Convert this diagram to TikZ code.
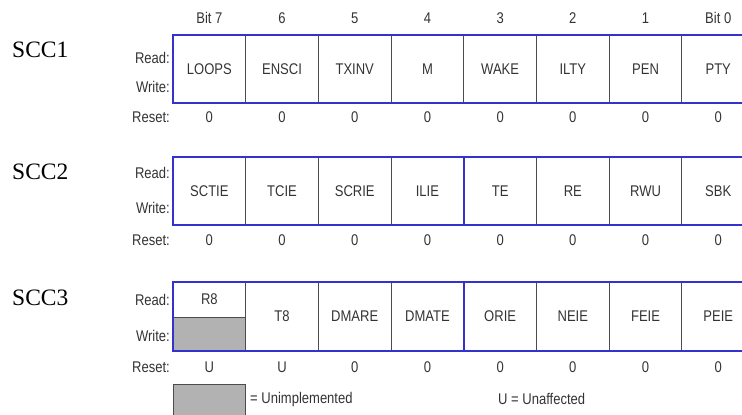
\documentclass[tikz,border=0pt]{standalone}
\usepackage{fontspec}
\setmainfont{Liberation Serif}
\newfontfamily\regfont[FakeStretch=0.84]{Liberation Sans}
\definecolor{regblue}{RGB}{51,51,204}
\definecolor{regtext}{RGB}{51,51,51}
\definecolor{unimpl}{RGB}{178,178,178}
\tikzset{
  regframe/.style={draw=regblue, line width=2pt},
  bitsep/.style={draw=black!70, line width=0.9pt},
  regtxt/.style={font=\regfont\fontsize{15.5}{18}\selectfont, text=regtext, inner sep=0pt},
  rowlbl/.style={regtxt, anchor=east},
  regname/.style={font=\fontsize{23.5}{26}\selectfont, anchor=west, inner sep=0pt},
}
\begin{document}
\begin{tikzpicture}[x=1pt,y=-1pt]
\clip (0,0) rectangle (742,415);
\def\cw{72.7}
% bit numbers over the first register
\foreach \b [count=\k] in {Bit 7,6,5,4,3,2,1,Bit 0}
  \node[regtxt] (bit\k) at ({173+\cw*(\k-0.5)},18) {\b};

% SCC1
\node[regname] (scc1) at (12,50) {SCC1};
\foreach \k in {1,...,7} \draw[bitsep] ({173+\cw*\k},35) -- ({173+\cw*\k},103);
\draw[regframe] (173,35) rectangle (760,103);
\foreach \nm [count=\k] in {LOOPS,ENSCI,TXINV,M,WAKE,ILTY,PEN,PTY}
  \node[regtxt] (one\k) at ({173+\cw*(\k-0.5)},69) {\nm};
\node[rowlbl] (rd1) at (170,58) {Read:};
\node[rowlbl] (wr1) at (170,87) {Write:};
\node[rowlbl] (rs1) at (170,117) {Reset:};
\foreach \k in {1,...,8} \node[regtxt] (rst1-\k) at ({173+\cw*(\k-0.5)},117) {0};

% SCC2: the blue line between ILIE and TE
\node[regname] (scc2) at (12,172) {SCC2};
\foreach \k in {1,...,7} \draw[bitsep] ({173+\cw*\k},157) -- ({173+\cw*\k},225);
\draw[regframe] ({173+\cw*4},157) -- ({173+\cw*4},225);
\draw[regframe] (173,157) rectangle (760,225);
\foreach \nm [count=\k] in {SCTIE,TCIE,SCRIE,ILIE,TE,RE,RWU,SBK}
  \node[regtxt] (two\k) at ({173+\cw*(\k-0.5)},191) {\nm};
\node[rowlbl] (rd2) at (170,173) {Read:};
\node[rowlbl] (wr2) at (170,208) {Write:};
\node[rowlbl] (rs2) at (170,240) {Reset:};
\foreach \k in {1,...,8} \node[regtxt] (rst2-\k) at ({173+\cw*(\k-0.5)},240) {0};

% SCC3: bit 7 is read only, its write half is unimplemented
\node[regname] (scc3) at (12,298) {SCC3};
\fill[unimpl] (173,317) rectangle ({173+\cw},351);
\draw[bitsep] (173,317) -- ({173+\cw},317);
\foreach \k in {1,...,7} \draw[bitsep] ({173+\cw*\k},282) -- ({173+\cw*\k},351);
\draw[regframe] ({173+\cw*4},282) -- ({173+\cw*4},351);
\draw[regframe] (173,282) rectangle (760,351);
\node[regtxt] (three1) at ({173+\cw*0.5},299) {R8};
\foreach \nm [count=\k from 2] in {T8,DMARE,DMATE,ORIE,NEIE,FEIE,PEIE}
  \node[regtxt] (three\k) at ({173+\cw*(\k-0.5)},316) {\nm};
\node[rowlbl] (rd3) at (170,300) {Read:};
\node[rowlbl] (wr3) at (170,336) {Write:};
\node[rowlbl] (rs3) at (170,367) {Reset:};
\foreach \v [count=\k] in {U,U,0,0,0,0,0,0}
  \node[regtxt] (rst3-\k) at ({173+\cw*(\k-0.5)},367) {\v};

% key
\filldraw[fill=unimpl, draw=black!70, line width=0.9pt] (173,384) rectangle ({173+\cw},420);
\node[regtxt, anchor=west] (keyu) at (250,399) {= Unimplemented};
\node[regtxt, anchor=west] (keyaff) at (498,399) {U = Unaffected};
\end{tikzpicture}
\end{document}
